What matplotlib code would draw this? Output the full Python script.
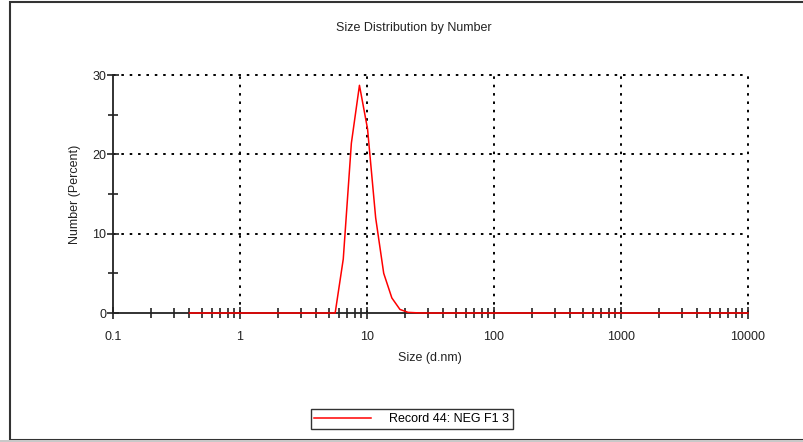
import matplotlib.pyplot as plt
from matplotlib.patches import Rectangle
from matplotlib.ticker import LogLocator, MultipleLocator, FixedLocator, FixedFormatter

plt.rcParams['font.family'] = ['Liberation Sans', 'DejaVu Sans']

# Zetasizer size bins (d.nm) and number distribution (%)
sizes = [0.4, 0.4632, 0.5365, 0.6213, 0.7195, 0.8332, 0.9649, 1.117, 1.294, 1.499,
         1.736, 2.01, 2.328, 2.696, 3.122, 3.615, 4.187, 4.849, 5.615, 6.503,
         7.531, 8.721, 10.1, 11.7, 13.54, 15.69, 18.17, 21.04, 24.36, 28.21,
         32.67, 37.84, 43.82, 50.75, 58.77, 68.06, 78.82, 91.28, 105.7, 122.4,
         141.8, 164.2, 190.1, 220.2, 255.0, 295.3, 342.0, 396.1, 458.7, 531.2,
         615.1, 712.4, 825.0, 955.4, 1106, 1281, 1484, 1718, 1990, 2305,
         2669, 3091, 3580, 4145, 4801, 5560, 6439, 7456, 8635, 10000]
number = [0] * 18 + [0.0, 6.8, 21.4, 28.7, 23.2, 12.0, 5.0, 1.9, 0.45,
                     0.08, 0.03] + [0] * 41
xticks = [0.1, 1, 10, 100, 1000, 10000]
xtick_labels = ['0.1', '1', '10', '100', '1000', '10000']
yticks = [0, 10, 20, 30]

fig = plt.figure(figsize=(8.04, 4.42), dpi=100)
ax = fig.add_axes([113 / 804, 1 - 313 / 442, 635 / 804, 238 / 442])

ax.plot(sizes, number, color='red', lw=1.1, label='Record 44: NEG F1 3', zorder=3,
        clip_on=False)

ax.set_xscale('log')
ax.set_xlim(0.1, 10000)
ax.set_ylim(0, 30)
ax.xaxis.set_major_locator(FixedLocator(xticks))
ax.xaxis.set_major_formatter(FixedFormatter(xtick_labels))
ax.xaxis.set_minor_locator(LogLocator(base=10, subs=range(2, 10), numticks=20))
ax.yaxis.set_major_locator(FixedLocator(yticks))
ax.yaxis.set_minor_locator(MultipleLocator(5))

for s in ['top', 'right']:
    ax.spines[s].set_visible(False)
for s in ['left', 'bottom']:
    ax.spines[s].set_linewidth(1.3)
    ax.spines[s].set_color('#222222')
    ax.spines[s].set_zorder(2)

ax.tick_params(which='both', direction='inout', color='#222222', width=1.2,
               labelsize=9, labelcolor='#222222')
ax.tick_params(which='major', length=8)
ax.tick_params(which='minor', length=7)
ax.tick_params(axis='x', pad=9)
ax.tick_params(axis='y', pad=1)

# dotted grid, also forming the top and right edges of the plot area
for x in xticks[1:]:
    ax.axvline(x, color='black', ls=(0, (1.3, 3)), lw=1.4, zorder=1, clip_on=False)
for y in yticks[1:]:
    ax.axhline(y, color='black', ls=(0, (1.3, 3)), lw=1.4, zorder=1, clip_on=False)

fig.text(414 / 804, 1 - 28 / 442, 'Size Distribution by Number', ha='center',
         va='center', fontsize=9, color='#222222')
fig.text(430 / 804, 1 - 358 / 442, 'Size (d.nm)', ha='center', va='center',
         fontsize=9, color='#222222')
fig.text(75 / 804, 1 - 194 / 442, 'Number (Percent)', ha='center', va='center',
         rotation=90, fontsize=9, color='#222222')

leg = fig.legend(loc='center', bbox_to_anchor=(412 / 804, 1 - 419 / 442),
                 fontsize=9, frameon=True, fancybox=False, edgecolor='black',
                 handlelength=4.5, handletextpad=1.5, borderpad=0.3,
                 borderaxespad=0)
leg.get_frame().set_linewidth(1.0)

# outer frame of the report panel
fig.add_artist(Rectangle((10 / 804, 2 / 442), 1.2, 438 / 442, transform=fig.transFigure,
                         fill=False, edgecolor='#333333', lw=1.5))
fig.add_artist(Rectangle((0, 0), 1, 2 / 442, transform=fig.transFigure,
                         facecolor='#c8c8c8', edgecolor='none'))

fig.savefig('out.png', dpi=100)
